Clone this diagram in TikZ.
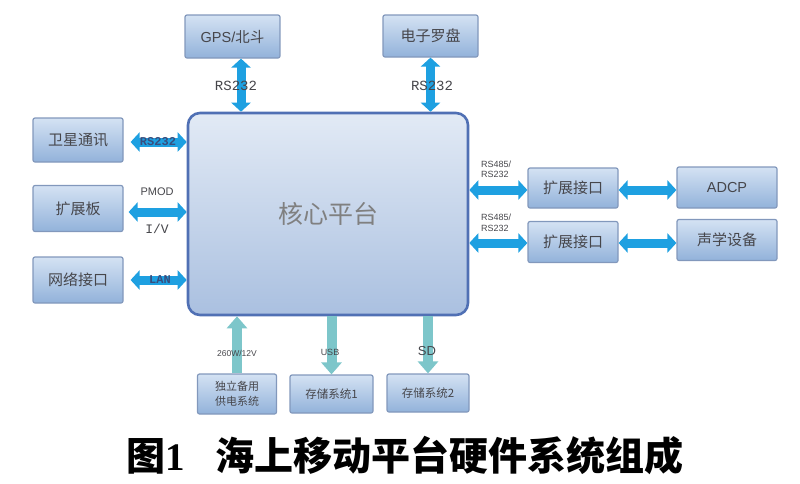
\documentclass[tikz,border=0pt]{standalone}
\usepackage{fontspec}
\setmainfont{Liberation Sans}
\newfontfamily\cjk{Noto Sans CJK SC}
\newfontfamily\monof{Liberation Mono}
\newfontfamily\serifb{Liberation Serif}
\usetikzlibrary{arrows.meta,calc}
\definecolor{arrblue}{RGB}{30,160,225}
\definecolor{teal1}{RGB}{125,198,202}
\definecolor{boxtop}{RGB}{212,226,243}
\definecolor{boxbot}{RGB}{146,178,218}
\definecolor{boxline}{RGB}{130,152,188}
\definecolor{coretop}{RGB}{226,234,245}
\definecolor{corebot}{RGB}{170,192,224}
\definecolor{coreline}{RGB}{80,112,180}
\definecolor{txt}{RGB}{70,70,75}
\tikzset{
  box/.style={draw=boxline, line width=1.2pt, rounded corners=2pt, top color=boxtop, bottom color=boxbot,
    minimum width=90pt, minimum height=44pt, inner sep=1pt, align=center, text=txt,
    font=\cjk\fontsize{15}{17}\selectfont},
  sbox/.style={box, minimum width=80pt, minimum height=38pt, font=\cjk\fontsize{11.5}{14}\selectfont},
  arr/.style={line width=9pt, draw=arrblue, {Triangle[width=19pt,length=9pt]}-{Triangle[width=19pt,length=9pt]}},
  uarr/.style={line width=10pt, draw=teal1, -{Triangle[width=20pt,length=12pt]}},
  lab/.style={font=\monof\fontsize{14}{16}\selectfont, text=txt, inner sep=0pt},
  slab/.style={font=\fontsize{9}{10.5}\selectfont, text=txt, inner sep=0pt, align=left},
}
\begin{document}
\begin{tikzpicture}[x=1pt,y=-1pt]
\useasboundingbox (0,0) rectangle (800,483);
% core
\node[draw=coreline, line width=2.6pt, rounded corners=12pt, top color=coretop, bottom color=corebot,
  minimum width=280pt, minimum height=202pt, font=\cjk\fontsize{25}{28}\selectfont, text=gray] (core) at (328,214) {核心平台};
% top boxes
\node[box, minimum width=95pt, minimum height=43pt, font=\fontsize{14.5}{17}\selectfont] (gps) at (232.5,36.5) {GPS/{\cjk 北斗}};
\node[box, minimum width=95pt, minimum height=42pt] (comp) at (430.5,36) {电子罗盘};
% left boxes
\node[box, minimum height=44pt] (sat) at (78,140) {卫星通讯};
\node[box, minimum height=46pt] (ext) at (78,208.5) {扩展板};
\node[box, minimum height=46pt] (net) at (78,280) {网络接口};
% right boxes
\node[box, minimum width=90pt, minimum height=40pt] (if1) at (573,188) {扩展接口};
\node[box, minimum width=100pt, minimum height=41pt, font=\fontsize{14.5}{17}\selectfont] (adcp) at (727,187.5) {ADCP};
\node[box, minimum width=90pt, minimum height=41pt] (if2) at (573,242) {扩展接口};
\node[box, minimum width=100pt, minimum height=41pt] (ac) at (727,240) {声学设备};
% bottom boxes
\node[sbox, minimum width=79pt, minimum height=40pt, font=\cjk\fontsize{11}{15}\selectfont] (pw) at (237,394) {独立备用\\供电系统};
\node[sbox, minimum width=83pt] (s1) at (331.5,394) {存储系统1};
\node[sbox, minimum width=82pt] (s2) at (428,393) {存储系统2};
% top arrows
\coordinate (ga) at ($(gps.south)+(8.5,0)$);
\draw[arr] (ga) -- (ga |- core.north);
\draw[arr] (comp.south) -- (comp.south |- core.north);
\node[lab] (l1) at (236,86) {RS232};
\node[lab] (l2) at (432,86) {RS232};
% left arrows
\coordinate (sa) at ($(sat.east)+(7,2)$);
\draw[arr] (sa) -- (sa -| core.west);
\node[font=\monof\bfseries\fontsize{12}{14}\selectfont, text=coreline!70!black, inner sep=0pt] (l3) at (158,142) {RS232};
\coordinate (ea) at ($(ext.east)+(5,3.5)$);
\draw[arr] (ea) -- (ea -| core.west);
\node[font=\fontsize{11}{13}\selectfont, text=txt, inner sep=0pt] (l4) at (157,192) {PMOD};
\node[lab, font=\monof\fontsize{13}{15}\selectfont] (l5) at (157,229) {I/V};
\coordinate (na) at ($(net.east)+(7,0)$);
\draw[arr] (na) -- (na -| core.west);
\node[font=\monof\bfseries\fontsize{12}{14}\selectfont, text=coreline!70!black, inner sep=0pt] (l6) at (160,280) {LAN};
% right arrows
\coordinate (ia) at ($(if1.west)+(0,2)$);
\coordinate (ib) at ($(if2.west)+(0,1)$);
\coordinate (ic) at ($(if1.east)+(0,2)$);
\coordinate (id) at ($(if2.east)+(0,1)$);
\draw[arr] (ia) -- (ia -| core.east);
\draw[arr] (ib) -- (ib -| core.east);
\draw[arr] (ic) -- (ic -| adcp.west);
\draw[arr] (id) -- (id -| ac.west);
\node[slab, anchor=west] (l7) at (481,169.5) {RS485/\\RS232};
\node[slab, anchor=west] (l8) at (481,223) {RS485/\\RS232};
% bottom arrows
\draw[uarr] (pw.north) -- (pw.north |- core.south);
\draw[uarr] (s1.north |- core.south) -- (s1.north);
\draw[uarr] (s2.north |- core.south) -- (s2.north);
\node[font=\fontsize{8.5}{10}\selectfont, text=txt, inner sep=0pt] (l9) at (237,353) {260W/12V};
\node[font=\fontsize{9}{10}\selectfont, text=txt, inner sep=0pt] (l10) at (330,352) {USB};
\node[font=\fontsize{13}{15}\selectfont, text=txt, inner sep=0pt] (l11) at (427,351) {SD};
% caption
\node[font=\cjk\bfseries\fontsize{39}{44}\selectfont, inner sep=0pt] (cap) at (405,455) {图{\serifb\bfseries 1}\hspace{30pt}海上移动平台硬件系统组成};
\end{tikzpicture}
\end{document}
